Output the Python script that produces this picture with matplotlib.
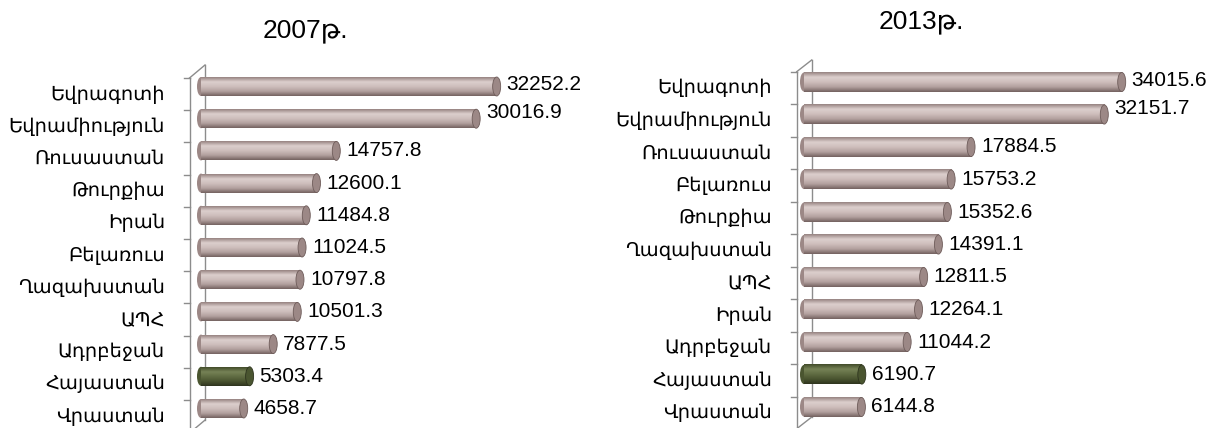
import numpy as np
import matplotlib.pyplot as plt
from matplotlib.patches import Ellipse

# data
cats_2007 = ["Եվրագոտի", "Եվրամիություն", "Ռուսաստան", "Թուրքիա", "Իրան", "Բելառուս",
             "Ղազախստան", "ԱՊՀ", "Ադրբեջան", "Հայաստան", "Վրաստան"]
vals_2007 = [32252.2, 30016.9, 14757.8, 12600.1, 11484.8, 11024.5,
             10797.8, 10501.3, 7877.5, 5303.4, 4658.7]

cats_2013 = ["Եվրագոտի", "Եվրամիություն", "Ռուսաստան", "Բելառուս", "Թուրքիա", "Ղազախստան",
             "ԱՊՀ", "Իրան", "Ադրբեջան", "Հայաստան", "Վրաստան"]
vals_2013 = [34015.6, 32151.7, 17884.5, 15753.2, 15352.6, 14391.1,
             12811.5, 12264.1, 11044.2, 6190.7, 6144.8]

titles = ["2007թ.", "2013թ."]
home = "Հայաստան"

W, H = 1221, 428
fig = plt.figure(figsize=(W / 100, H / 100), dpi=100)
fig.patch.set_facecolor("white")

LABEL_FONT = ["DejaVu Sans"]
NUM_FONT = ["Liberation Sans", "DejaVu Sans"]


def gradient(stops):
    """vertical colour ramp, row 0 = top edge of the bar"""
    pos = np.linspace(0, 1, len(stops))
    t = np.linspace(0, 1, 64)
    cols = np.array(stops, dtype=float) / 255.0
    g = np.stack([np.interp(t, pos, cols[:, i]) for i in range(3)], axis=1)
    return g[:, None, :]


ROSE = gradient([(150, 131, 129), (220, 207, 205), (206, 190, 188), (178, 160, 158), (116, 98, 96)])
GREEN = gradient([(66, 76, 42), (118, 130, 86), (96, 108, 66), (74, 84, 48), (46, 52, 30)])


def px_axes(left, top, width, height):
    return fig.add_axes([left / W, 1 - (top + height) / H, width / W, height / H])


def draw_panel(ax, cats, vals, unit_px, wall, label_dx):
    n = len(cats)
    h = 0.59
    cap_w = 8 / unit_px
    front_x, back_x, back_top, front_top, back_bot = wall
    fx = front_x / unit_px
    bx = back_x / unit_px
    shift = front_top + 0.5

    # 3d wall outline
    lc = "#8c8c8c"
    ax.plot([bx, bx], [back_top, back_bot], color=lc, lw=1, zorder=1, clip_on=False)
    ax.plot([fx, fx], [front_top, back_bot + shift + 0.5], color=lc, lw=1, zorder=1, clip_on=False)
    ax.plot([fx, bx], [front_top, back_top], color=lc, lw=1, zorder=1, clip_on=False)
    ax.plot([fx, bx], [back_bot + (front_top - back_top), back_bot], color=lc, lw=1, zorder=1, clip_on=False)
    for k in range(n + 1):
        ax.plot([fx - 6 / unit_px, fx], [front_top + k, front_top + k], color=lc, lw=1,
                zorder=1, clip_on=False)

    for y, (c, v) in enumerate(zip(cats, vals)):
        green = c == home
        ax.imshow(GREEN if green else ROSE, extent=[0, v, y - h / 2, y + h / 2], origin="lower",
                  aspect="auto", interpolation="bilinear", zorder=3)
        face = "#9c8886" if not green else "#4a5530"
        rim = "#6e5c5a" if not green else "#2e341e"
        ax.add_patch(Ellipse((0, y), cap_w, h, facecolor=face, edgecolor="none", zorder=2.5, clip_on=False))
        ax.add_patch(Ellipse((v, y), cap_w, h, facecolor=face, edgecolor=rim, lw=0.6, zorder=4))

        raise_px = [1.5, 6.5][y] if y < 2 else 0
        ax.annotate(f"{v:.1f}", (v, y), xytext=(10, raise_px), textcoords="offset pixels",
                    ha="left", va="center", fontsize=15, family=NUM_FONT, color="black",
                    annotation_clip=False)
        ax.text(label_dx / unit_px, y + shift, c, ha="right", va="center", fontsize=14,
                family=LABEL_FONT, color="black", clip_on=False)

    ax.set_xlim(0, 330 / unit_px)
    ax.set_ylim(n - 0.5, -0.5)
    ax.set_axis_off()


# left panel: zero at x=201px, rows every 32.2px starting at 86.5px
ax1 = px_axes(201, 86.5 - 16.1, 330, 11 * 32.2)
draw_panel(ax1, cats_2007, vals_2007, 0.009167,
           (-11.5, 4, -0.668, -0.264, 10.36), -36)

# right panel: zero at x=804px, rows every 32.5px starting at 82px
ax2 = px_axes(804, 82 - 16.25, 330, 11 * 32.5)
draw_panel(ax2, cats_2013, vals_2013, 0.00934,
           (-7.3, 7.7, -0.677, -0.317, 10.31), -32)

fig.text(305 / W, 1 - 31 / H, titles[0], ha="center", va="center", fontsize=19,
         family=NUM_FONT, color="black")
fig.text(921 / W, 1 - 22 / H, titles[1], ha="center", va="center", fontsize=19,
         family=NUM_FONT, color="black")

fig.savefig("out.png", dpi=100)
